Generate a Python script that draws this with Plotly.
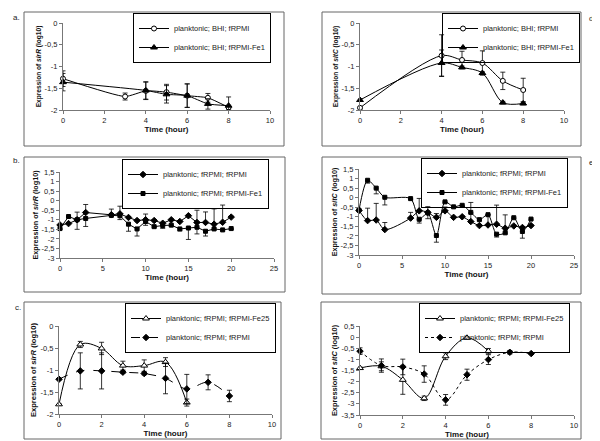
import plotly.graph_objects as go

# ---------------- data ----------------
# Panel a: sirR, BHI-grown
a_x1 = [0, 3, 4, 5, 6, 7, 8]
a_y1 = [-1.28, -1.69, -1.56, -1.59, -1.67, -1.72, -1.94]
a_e1 = [0.18, 0.08, 0.2, 0.18, 0.27, 0.1, 0.05]
a_x2 = [0, 4, 5, 6, 7, 8]
a_y2 = [-1.36, -1.55, -1.64, -1.67, -1.86, -1.90]
a_e2 = [0.2, 0.2, 0.2, 0.27, 0.12, 0.2]

# Panel d: sitC, BHI-grown
d_x1 = [0, 4, 5, 6, 7, 8]
d_y1 = [-1.95, -0.75, -0.85, -0.92, -1.33, -1.54]
d_e1 = [0.03, 0.48, 0.2, 0.28, 0.2, 0.27]
d_x2 = [0, 4, 5, 6, 7, 8]
d_y2 = [-1.77, -0.92, -1.02, -1.15, -1.83, -1.85]
d_e2 = [0.03, 0.3, 0.03, 0.03, 0.03, 0.03]

# Panel b: sirR, fRPMI time course
b_x = [0, 1, 2, 3, 6, 7, 8, 9, 10, 11, 12, 13, 14, 15, 16, 17, 18, 19, 20]
b_y1 = [-1.27, -1.2, -1.0, -0.62, -0.74, -0.69, -0.88, -1.04, -1.0, -1.04,
        -1.18, -1.0, -1.09, -0.79, -1.14, -1.14, -1.23, -1.13, -0.86]
b_p1 = [0.05, 0.05, 0.4, 0.42, 0.3, 0.4, 0.05, 0.05, 0.3, 0.05,
        0.05, 0.05, 0.05, 0.05, 0.64, 0.55, 0.8, 0.9, 0.05]
b_y2 = [-1.46, -0.83, -1.0, -0.93, -0.77, -0.79, -1.23, -1.48, -1.09, -1.36,
        -1.3, -1.28, -1.48, -1.43, -1.39, -1.6, -1.48, -1.53, -1.46]
b_m2 = [0.05, 0.05, 0.5, 0.42, 0.05, 0.2, 0.37, 0.37, 0.2, 0.05,
        0.15, 0.05, 0.1, 0.6, 0.35, 0.25, 0.05, 0.05, 0.05]

# Panel e: sitC, fRPMI time course
e_x = [0, 1, 2, 3, 6, 7, 8, 9, 10, 11, 12, 13, 14, 15, 16, 17, 18, 19, 20]
e_y1 = [-0.67, -1.2, -1.17, -1.67, -1.07, -0.69, -0.77, -1.03, -0.69, -1.03,
        -1.0, -1.25, -1.46, -1.43, -1.39, -1.6, -1.48, -1.56, -1.46]
e_p1 = [0.0, 0.65, 0.87, 0.37, 0.3, 0.65, 0.3, 0.2, 0.2, 0.05,
        0.05, 1.0, 0.05, 0.55, 1.0, 0.7, 0.05, 0.05, 0.05]
e_y2 = [-0.65, 0.91, 0.5, 0.02, -0.05, -1.13, -0.8, -1.98, -0.22, -0.48,
        -0.4, -0.77, -1.15, -0.89, -1.91, -1.84, -1.05, -1.77, -1.12]
e_m2 = [0.0, 0.15, 0.3, 0.4, 0.05, 0.2, 0.3, 0.35, 0.05, 0.05,
        0.05, 0.05, 0.05, 0.05, 0.15, 0.05, 0.05, 0.35, 0.05]

# Panel c: sirR, Fe25
c_x1 = [0, 1, 2, 3, 4, 5, 6]
c_y1 = [-1.78, -0.42, -0.51, -0.9, -0.9, -0.82, -1.74]
c_e1 = [0.02, 0.07, 0.14, 0.1, 0.13, 0.1, 0.08]
c_x2 = [0, 1, 2, 3, 4, 5, 6, 7, 8]
c_y2 = [-1.21, -1.02, -1.02, -1.05, -1.08, -1.19, -1.43, -1.28, -1.59]
c_e2 = [0.02, 0.41, 0.41, 0.03, 0.03, 0.35, 0.33, 0.17, 0.13]

# Panel f: sitC, Fe25
f_x1 = [0, 1, 2, 3, 4, 5, 6]
f_y1 = [-1.39, -1.31, -1.92, -2.75, -0.86, -0.03, -0.63]
f_e1 = [0.05, 0.2, 0.65, 0.1, 0.15, 0.05, 0.12]
f_x2 = [0, 1, 2, 3, 4, 5, 6, 7, 8]
f_y2 = [-0.63, -1.28, -1.34, -1.66, -2.82, -1.69, -1.01, -0.68, -0.74]
f_e2 = [0.15, 0.3, 0.35, 0.37, 0.24, 0.25, 0.22, 0.08, 0.03]

# tick labels
x_ticks10 = [0, 2, 4, 6, 8, 10]
x_ticks25 = [0, 5, 10, 15, 20, 25]
y_vals_a = [0, -0.5, -1, -1.5, -2]
y_text_a = ["0", "-0,5", "-1", "-1,5", "-2"]
y_vals_b = [1.5, 1, 0.5, 0, -0.5, -1, -1.5, -2, -2.5, -3]
y_text_b = ["1,5", "1", "0,5", "0", "-0,5", "-1", "-1,5", "-2", "-2,5", "-3"]
y_vals_f = [0.5, 0, -0.5, -1, -1.5, -2, -2.5, -3, -3.5]
y_text_f = ["0,5", "0", "-0,5", "-1", "-1,5", "-2", "-2,5", "-3", "-3,5"]

FONT = "Liberation Sans, Arial, sans-serif"
W, H = 600, 441

fig = go.Figure()


def eb(arr, minus=None):
    d = dict(type="data", array=arr, color="black", thickness=0.8, width=2.5, visible=True)
    if minus is not None:
        d["symmetric"] = False
        d["arrayminus"] = minus
    return d


def tr(x, y, err, name, sym, size, fill, dash, shape, smooth, ax, leg):
    line = dict(color="black", width=1, dash=dash, shape=shape)
    if shape == "spline":
        line["smoothing"] = smooth
    return go.Scatter(
        x=x, y=y, name=name, mode="lines+markers", line=line,
        marker=dict(symbol=sym, size=size, color=("black" if fill else "white"),
                    line=dict(color="black", width=1)),
        error_y=err, xaxis="x" + ax, yaxis="y" + ax, legend=leg, cliponaxis=False,
    )


def zeros(n):
    return [0] * n


# a
fig.add_trace(tr(a_x1, a_y1, eb(a_e1), "planktonic; BHI; fRPMI", "circle", 5, False, "solid", "spline", 0.5, "", "legend"))
fig.add_trace(tr(a_x2, a_y2, eb(a_e2), "planktonic; BHI; fRPMI-Fe1", "triangle-up", 6, True, "solid", "spline", 0.5, "", "legend"))
# d
fig.add_trace(tr(d_x1, d_y1, eb(d_e1), "planktonic; BHI; fRPMI", "circle", 5, False, "solid", "spline", 0.9, "2", "legend2"))
fig.add_trace(tr(d_x2, d_y2, eb(d_e2), "planktonic; BHI; fRPMI-Fe1", "triangle-up", 6, True, "solid", "spline", 0.9, "2", "legend2"))
# b
fig.add_trace(tr(b_x, b_y1, eb(b_p1, zeros(len(b_x))), "planktonic; fRPMI; fRPMI", "diamond", 5, True, "solid", "linear", 0, "3", "legend3"))
fig.add_trace(tr(b_x, b_y2, eb(zeros(len(b_x)), b_m2), "planktonic; fRPMI; fRPMI-Fe1", "square", 4, True, "solid", "linear", 0, "3", "legend3"))
# e
fig.add_trace(tr(e_x, e_y1, eb(e_p1, zeros(len(e_x))), "planktonic; fRPMI; fRPMI", "diamond", 5, True, "solid", "spline", 0.8, "4", "legend4"))
fig.add_trace(tr(e_x, e_y2, eb(zeros(len(e_x)), e_m2), "planktonic; fRPMI; fRPMI-Fe1", "square", 4, True, "solid", "spline", 0.8, "4", "legend4"))
# c
fig.add_trace(tr(c_x1, c_y1, eb(c_e1), "planktonic; fRPMI; fRPMI-Fe25", "triangle-up", 6, False, "solid", "spline", 1.0, "5", "legend5"))
fig.add_trace(tr(c_x2, c_y2, eb(c_e2), "planktonic; fRPMI; fRPMI", "diamond", 5, True, "dash", "spline", 1.0, "5", "legend5"))
# f
fig.add_trace(tr(f_x1, f_y1, eb(f_e1), "planktonic; fRPMI; fRPMI-Fe25", "triangle-up", 6, False, "solid", "spline", 1.0, "6", "legend6"))
fig.add_trace(tr(f_x2, f_y2, eb(f_e2), "planktonic; fRPMI; fRPMI", "diamond", 5, True, "dot", "spline", 1.0, "6", "legend6"))


def px_x(a, b):
    return [a / W, b / W]


def px_y(top, bot):
    return [1 - bot / H, 1 - top / H]


axcommon = dict(showline=True, linecolor="#777", linewidth=1, ticks="outside", ticklen=3,
                tickcolor="#777", showgrid=False, zeroline=False, automargin=False,
                tickfont=dict(family=FONT, size=7.5, color="#222"))

panels = [
    # suffix, xdom px, ydom px, xrange, xticks, yrange, yvals, ytext, gene, standoff_x, ysize
    ("", (55, 262), (15, 102), [0, 10], x_ticks10, [-2, 0], y_vals_a, y_text_a, "sirR", 0, 6.6),
    ("2", (352, 556), (15, 102), [0, 10], x_ticks10, [-2, 0], y_vals_a, y_text_a, "sitC", 0, 6.6),
    ("3", (52, 266), (164, 250), [0, 25], x_ticks25, [-3, 1.5], y_vals_b, y_text_b, "sirR", 0, 7.2),
    ("4", (351, 566), (161, 247), [0, 25], x_ticks25, [-3, 1.5], y_vals_b, y_text_b, "sitC", 1, 7.2),
    ("5", (51, 264), (318, 406), [0, 10], x_ticks10, [-2, 0], y_vals_a, y_text_a, "sirR", 0, 7.6),
    ("6", (352, 566), (318, 407), [0, 10], x_ticks10, [-3.5, 0.5], y_vals_f, y_text_f, "sitC", 0, 7.4),
]

lay = {}
for suf, xd, yd, xr, xt, yr, yv, yt, gene, so, ys in panels:
    lay["xaxis" + suf] = dict(domain=px_x(*xd), anchor="y" + suf, range=xr, tickvals=xt,
                              title=dict(text="<b>Time (hour)</b>", standoff=so,
                                         font=dict(family=FONT, size=8, color="#111")),
                              **axcommon)
    lay["yaxis" + suf] = dict(domain=px_y(*yd), anchor="x" + suf, range=yr, tickvals=yv, ticktext=yt,
                              title=dict(text="<b>Expression of <i>" + gene + "</i> (log10)</b>", standoff=2,
                                         font=dict(family=FONT, size=ys, color="#111")),
                              **axcommon)

# legend right edge / top edge in pixels
legpos = {"legend": (263, 5), "legend2": (572, 5), "legend3": (261, 151),
          "legend4": (560, 150), "legend5": (268, 295), "legend6": (562, 295)}
for k, (lx, ly) in legpos.items():
    lay[k] = dict(x=lx / W, y=1 - ly / H, xanchor="right", yanchor="top",
                  bgcolor="rgba(255,255,255,0)", bordercolor="black", borderwidth=1,
                  font=dict(family=FONT, size=7.5, color="#222"), itemwidth=30,
                  tracegroupgap=0)

frames = [(16, 4, 276, 138), (314, 4, 573, 138), (16, 149, 277, 284),
          (314, 149, 573, 286), (16, 294, 273, 431), (313, 294, 573, 431)]
shapes = [dict(type="rect", xref="paper", yref="paper", x0=x0 / W, x1=x1 / W,
               y0=1 - y1 / H, y1=1 - y0 / H, line=dict(color="#666", width=1), layer="below")
          for x0, y0, x1, y1 in frames]

labels = [("a.", 8, 10), ("b.", 8, 152), ("c.", 10, 299), ("d.", 584, 11), ("e.", 584, 154), ("f.", 586, 305)]
annotations = [dict(text=t, x=x / W, y=1 - y / H, xref="paper", yref="paper", showarrow=False,
                    xanchor="center", yanchor="middle", font=dict(family=FONT, size=8, color="#222"))
               for t, x, y in labels]

fig.update_layout(width=W, height=H, margin=dict(l=0, r=0, t=0, b=0, autoexpand=False),
                  paper_bgcolor="white", plot_bgcolor="white", showlegend=True,
                  shapes=shapes, annotations=annotations, **lay)

fig.write_html("out.html")
